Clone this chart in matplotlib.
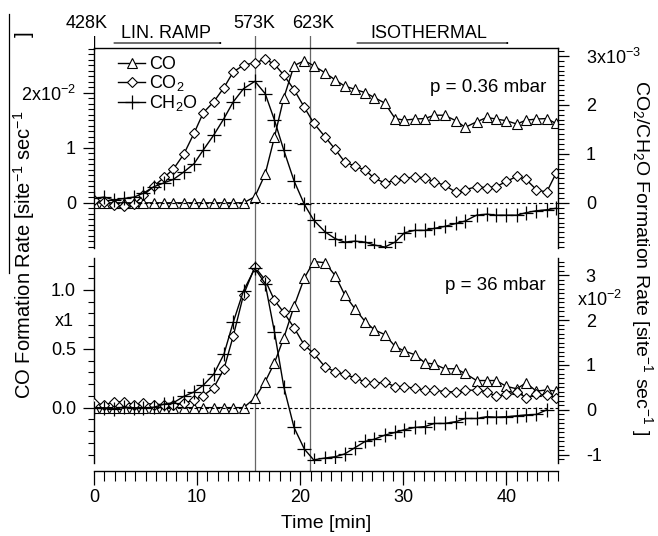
import matplotlib
matplotlib.use("Agg")
import matplotlib.pyplot as plt
from matplotlib.ticker import MultipleLocator, FixedLocator, FixedFormatter
from matplotlib.lines import Line2D
from matplotlib.patches import FancyArrowPatch

plt.rcParams['font.family'] = ['Liberation Sans', 'DejaVu Sans']
plt.rcParams['mathtext.fontset'] = 'custom'
plt.rcParams['mathtext.rm'] = 'Liberation Sans'
plt.rcParams['mathtext.it'] = 'Liberation Sans:italic'
plt.rcParams['font.size'] = 13

# time axis of the markers [min]
time = [0.0, 1.0, 1.9, 2.9, 3.9, 4.8, 5.8, 6.8, 7.7, 8.7, 9.7, 10.6, 11.6, 12.6,
        13.5, 14.5, 15.6, 16.6, 17.5, 18.4, 19.4, 20.4, 21.3, 22.4, 23.4, 24.3,
        25.3, 26.3, 27.2, 28.2, 29.2, 30.1, 31.1, 32.1, 33.0, 34.0, 35.1, 36.0,
        37.1, 38.1, 39.0, 40.0, 41.0, 41.9, 42.9, 43.9, 44.8]

# p = 0.36 mbar  (CO in 1e-2, CO2 / CH2O in 1e-3)
co_low = [0, 0, 0, 0, 0, 0, 0, 0, 0, 0, 0, 0, 0, 0, 0, 0.0,
          0.11, 0.52, 1.19, 1.90, 2.49, 2.58, 2.49, 2.36, 2.23, 2.12,
          2.06, 2.00, 1.91, 1.81, 1.53, 1.50, 1.52, 1.53, 1.59, 1.59,
          1.49, 1.37, 1.47, 1.55, 1.52, 1.49, 1.43, 1.50, 1.52, 1.53, 1.44]
co2_low = [0.06, 0.02, -0.05, -0.06, -0.03, 0.16, 0.34, 0.52, 0.69, 0.99, 1.42,
           1.84, 2.06, 2.35, 2.67, 2.81, 2.86, 2.93, 2.83, 2.61, 2.31, 1.95,
           1.63, 1.35, 1.09, 0.84, 0.75, 0.67, 0.50, 0.41, 0.46, 0.50, 0.53,
           0.51, 0.43, 0.36, 0.22, 0.27, 0.33, 0.31, 0.33, 0.44, 0.54, 0.48,
           0.27, 0.22, 0.60]
ch2o_low = [0.09, 0.12, 0.06, 0.09, 0.12, 0.20, 0.33, 0.41, 0.48, 0.63, 0.80,
            1.08, 1.38, 1.72, 2.06, 2.33, 2.48, 2.23, 1.69, 1.08, 0.45, -0.03,
            -0.35, -0.59, -0.73, -0.80, -0.78, -0.80, -0.86, -0.90, -0.80, -0.61,
            -0.56, -0.56, -0.52, -0.48, -0.42, -0.37, -0.25, -0.23, -0.25, -0.25,
            -0.25, -0.20, -0.16, -0.14, -0.11]

# p = 36 mbar  (CO x1, CO2 / CH2O in 1e-2)
co_high = [0, 0, 0, 0, 0, 0, 0, 0, 0, 0, 0, 0, 0, 0, 0, 0.0,
           0.08, 0.22, 0.38, 0.59, 0.86, 1.10, 1.24, 1.23, 1.12, 0.96,
           0.84, 0.73, 0.66, 0.62, 0.52, 0.48, 0.45, 0.38, 0.37, 0.33,
           0.33, 0.29, 0.23, 0.23, 0.23, 0.18, 0.16, 0.21, 0.14, 0.15, 0.14]
co2_high = [0.16, 0.11, 0.18, 0.18, 0.12, 0.16, 0.12, 0.12, 0.10, 0.15, 0.22,
            0.32, 0.49, 0.91, 1.64, 2.56, 3.18, 2.89, 2.44, 2.17, 1.83, 1.44,
            1.26, 0.96, 0.85, 0.79, 0.72, 0.62, 0.59, 0.62, 0.52, 0.52, 0.48,
            0.44, 0.44, 0.41, 0.40, 0.44, 0.44, 0.41, 0.30, 0.35, 0.41, 0.27,
            0.35, 0.33, 0.27]
ch2o_high = [0.04, 0.05, 0.03, 0.06, 0.05, 0.04, 0.06, 0.13, 0.16, 0.30, 0.40,
             0.55, 0.79, 1.24, 1.95, 2.65, 3.15, 2.81, 1.74, 0.52, -0.39, -0.87,
             -1.11, -1.07, -1.04, -0.98, -0.84, -0.70, -0.65, -0.56, -0.50, -0.44,
             -0.39, -0.37, -0.30, -0.30, -0.26, -0.19, -0.19, -0.15, -0.16, -0.15,
             -0.13, -0.11, -0.10, 0.0]

W, H = 658, 536
def fx(px):
    return px / W
def fy(py):
    return 1 - py / H

fig = plt.figure(figsize=(6.58, 5.36), dpi=100)

# overlay for vertical temperature markers
ov = fig.add_axes([fx(94), fy(470.7), fx(558) - fx(94), fy(36) - fy(470.7)])
ov.set_xlim(0, 45)
ov.set_ylim(0, 1)
ov.axis('off')
for tk in [15.6, 20.9]:
    ov.axvline(tk, color='0.4', lw=0.9)
ov.axvline(0, ymin=0.97, ymax=1, color='k', lw=1)

line_kw = dict(color='k', lw=1.0)
tri = dict(marker='^', ms=7.5, mfc='white', mec='k', mew=0.8)
dia = dict(marker='D', ms=5.5, mfc='white', mec='k', mew=0.8)
crs = dict(marker='+', ms=10, mec='k', mew=0.9)

# ---------- top panel ----------
ax1 = fig.add_axes([fx(94), fy(248), fx(558) - fx(94), fy(48) - fy(248)])
ax1.patch.set_visible(False)
ax1.set_xlim(0, 45)
ax1.set_ylim(-0.82, 2.81)
l_co, = ax1.plot(time, co_low, label='CO', **line_kw, **tri)
ax1.axhline(0, color='k', lw=0.8, ls=(0, (3, 2)))
ax1.spines['bottom'].set_visible(False)
ax1.spines['right'].set_visible(False)
ax1.set_xticks([])
ax1.yaxis.set_major_locator(FixedLocator([0, 1, 2]))
ax1.yaxis.set_major_formatter(FixedFormatter(['0', '1', r'2x10$^{-2}$']))
ax1.yaxis.set_minor_locator(MultipleLocator(0.1))

ax1r = ax1.twinx()
ax1r.set_ylim(-0.92, 3.16)
l_co2, = ax1r.plot(time, co2_low, label='CO$_2$', **line_kw, **dia)
l_ch, = ax1r.plot(time, ch2o_low, label='CH$_2$O', **line_kw, **crs)
for s in ['left', 'bottom', 'top']:
    ax1r.spines[s].set_visible(False)
ax1r.yaxis.set_major_locator(FixedLocator([0, 1, 2, 3]))
ax1r.yaxis.set_major_formatter(FixedFormatter(['0', '1', '2', r'3x10$^{-3}$']))
ax1r.yaxis.set_minor_locator(MultipleLocator(0.1))

ax1r.legend(handles=[l_co, l_co2, l_ch], loc='upper left',
            bbox_to_anchor=(fx(109), fy(47)), bbox_transform=fig.transFigure,
            frameon=False, handlelength=1.5, handletextpad=0.2,
            labelspacing=0.0, borderpad=0, fontsize=13)
fig.text(fx(546), fy(88), 'p = 0.36 mbar', ha='right', va='center', fontsize=13.5)

# ---------- bottom panel ----------
ax2 = fig.add_axes([fx(94), fy(463), fx(558) - fx(94), fy(258) - fy(463)])
ax2.patch.set_visible(False)
ax2.set_xlim(0, 45)
ax2.set_ylim(-0.47, 1.27)
ax2.plot(time, co_high, **line_kw, **tri)
ax2.axhline(0, color='k', lw=0.8, ls=(0, (3, 2)))
ax2.spines['top'].set_visible(False)
ax2.spines['right'].set_visible(False)
ax2.spines['bottom'].set_position(('outward', 5.6))
ax2.xaxis.set_major_locator(MultipleLocator(10))
ax2.xaxis.set_minor_locator(MultipleLocator(1))
ax2.yaxis.set_major_locator(FixedLocator([0, 0.5, 1.0]))
ax2.yaxis.set_major_formatter(FixedFormatter(['0.0', '0.5', '1.0']))
ax2.yaxis.set_minor_locator(MultipleLocator(0.1))

ax2r = ax2.twinx()
ax2r.set_ylim(-1.18, 3.38)
ax2r.plot(time, co2_high, **line_kw, **dia)
ax2r.plot(time[:len(ch2o_high)], ch2o_high, **line_kw, **crs)
for s in ['left', 'bottom', 'top']:
    ax2r.spines[s].set_visible(False)
ax2r.yaxis.set_major_locator(FixedLocator([-1, 0, 1, 2, 3]))
ax2r.yaxis.set_major_formatter(FixedFormatter(['-1', '0', '1', '2', '3']))
ax2r.yaxis.set_minor_locator(MultipleLocator(0.1))
fig.text(fx(546), fy(285), 'p = 36 mbar', ha='right', va='center', fontsize=13.5)
fig.text(fx(74), fy(322), 'x1', ha='right', va='center', fontsize=13)
fig.text(fx(577), fy(300), r'x10$^{-2}$', ha='left', va='center', fontsize=13)

for a in [ax1, ax1r, ax2, ax2r]:
    a.tick_params(which='major', length=8, width=0.9, labelsize=13, pad=5)
    a.tick_params(which='minor', length=4, width=0.8)
    for s in a.spines.values():
        s.set_linewidth(1.0)
for a in [ax1r, ax2r]:
    a.tick_params(which='major', pad=12)
ax2.tick_params(axis='x', which='major', length=10, pad=3)
ax2.tick_params(axis='x', which='minor', length=7)

# axis titles
fig.text(fx(326), fy(524), 'Time [min]', ha='center', va='center', fontsize=14)
fig.text(fx(24), fy(255), r'CO Formation Rate [site$^{-1}$ sec$^{-1}$',
         rotation=90, ha='center', va='center', fontsize=14.5)
fig.text(fx(24), fy(34), ']', rotation=90, ha='center', va='center', fontsize=14.5)
fig.text(fx(642), fy(258), r'CO$_2$/CH$_2$O Formation Rate [site$^{-1}$ sec$^{-1}$ ]',
         rotation=270, ha='center', va='center', fontsize=14)
fig.add_artist(Line2D([fx(9), fx(9)], [fy(14), fy(273)], color='k', lw=0.9))

# temperature / regime annotations
for txt, xp in [('428K', 87), ('573K', 254), ('623K', 313)]:
    fig.text(fx(xp), fy(23), txt, ha='center', va='center', fontsize=13)
fig.text(fx(166), fy(33), 'LIN. RAMP', ha='center', va='center', fontsize=13)
fig.text(fx(429), fy(33), 'ISOTHERMAL', ha='center', va='center', fontsize=13)
arrow = dict(arrowstyle='-|>,head_length=0.6,head_width=0.15', color='k', lw=0.8,
             shrinkA=0, shrinkB=0)
fig.add_artist(FancyArrowPatch((fx(114), fy(43)), (fx(223), fy(43)),
                               transform=fig.transFigure, **arrow))
fig.add_artist(FancyArrowPatch((fx(357), fy(43)), (fx(510), fy(43)),
                               transform=fig.transFigure, **arrow))

fig.savefig('out.png', dpi=100)
